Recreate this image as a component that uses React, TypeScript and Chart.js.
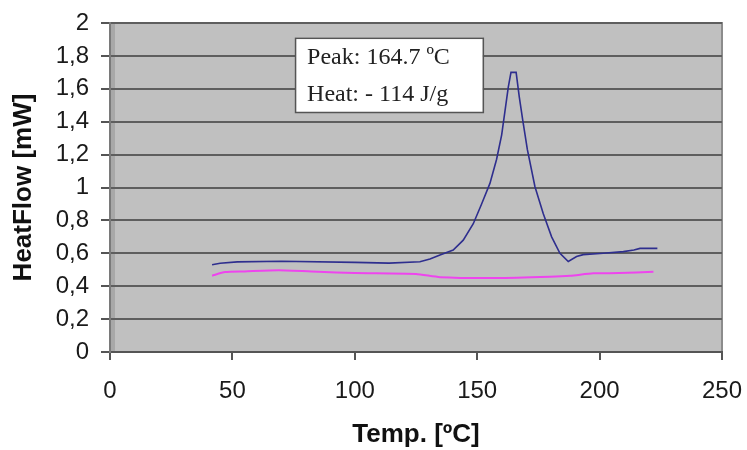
import React, { useEffect, useRef } from "react";
import { Chart, registerables } from "chart.js";

Chart.register(...registerables);

// Sample (upper, blue) curve: temperature [°C] and heat flow [mW]
const sampleTemp = [41.7, 45, 52, 70, 100, 114, 126.6, 130.7, 134.8, 140.2, 144.3, 148.4, 151.8, 155.2, 157.9, 160.0, 161.4, 162.7, 163.8, 165.9, 167.2, 168.6, 170.5, 173.6, 177.0, 180.4, 183.8, 187.2, 190.6, 193.3, 201.5, 209.7, 214, 216.5, 223.6];
const sampleFlow = [0.53, 0.54, 0.548, 0.552, 0.545, 0.54, 0.549, 0.565, 0.59, 0.62, 0.68, 0.78, 0.90, 1.025, 1.17, 1.32, 1.47, 1.61, 1.70, 1.70, 1.55, 1.41, 1.23, 1.005, 0.84, 0.70, 0.60, 0.55, 0.58, 0.592, 0.60, 0.61, 0.62, 0.63, 0.63];

// Baseline (lower, magenta) curve
const baseTemp = [41.7, 47, 55, 69, 85, 100, 125, 134.8, 158, 179.7, 188, 197.4, 208, 222];
const baseFlow = [0.464, 0.486, 0.49, 0.497, 0.488, 0.48, 0.474, 0.455, 0.45, 0.458, 0.464, 0.478, 0.48, 0.488];

const xTicksMin = 0;
const xTicksMax = 250;
const xStep = 50;
const yMin = 0;
const yMax = 2;
const yStep = 0.2;

const annotationLines = ["Peak: 164.7 ºC", "Heat: - 114 J/g"];
// annotation box anchored in data units: [left T, top value, right T, bottom value]
const annotationBox = [75.6, 1.91, 152.3, 1.459];

const xTitle = "Temp. [ºC]";
const yTitle = "HeatFlow [mW]";

const plotBgPlugin = {
  id: "plotBg",
  beforeDraw(chart: any) {
    const { ctx, chartArea } = chart;
    ctx.save();
    ctx.fillStyle = "#c0c0c0";
    ctx.fillRect(chartArea.left, chartArea.top, chartArea.right - chartArea.left, chartArea.bottom - chartArea.top);
    ctx.strokeStyle = "#8c8c8c";
    ctx.lineWidth = 2;
    ctx.strokeRect(chartArea.left + 1, chartArea.top, chartArea.right - chartArea.left - 1, chartArea.bottom - chartArea.top);
    ctx.fillStyle = "#a8a8a8";
    ctx.fillRect(chartArea.left, chartArea.top, 5, chartArea.bottom - chartArea.top);
    ctx.restore();
  },
};

const annotationPlugin = {
  id: "annot",
  afterDatasetsDraw(chart: any) {
    const { ctx, scales } = chart;
    const x0 = scales.x.getPixelForValue(annotationBox[0]);
    const y0 = scales.y.getPixelForValue(annotationBox[1]);
    const x1 = scales.x.getPixelForValue(annotationBox[2]);
    const y1 = scales.y.getPixelForValue(annotationBox[3]);
    ctx.save();
    ctx.fillStyle = "#ffffff";
    ctx.fillRect(x0, y0, x1 - x0, y1 - y0);
    ctx.strokeStyle = "#555555";
    ctx.lineWidth = 1.5;
    ctx.strokeRect(x0 + 0.5, y0 + 0.5, x1 - x0, y1 - y0);
    ctx.fillStyle = "#222222";
    ctx.font = '24px "Liberation Serif", "DejaVu Serif", serif';
    ctx.textBaseline = "middle";
    ctx.textAlign = "left";
    const h = y1 - y0;
    annotationLines.forEach((t, i) => {
      ctx.fillText(t, x0 + 12, y0 + h * (0.27 + 0.5 * i));
    });
    ctx.restore();
  },
};

export default function App() {
  const ref = useRef<HTMLCanvasElement | null>(null);
  useEffect(() => {
    document.body.style.margin = "0";
    const canvas = ref.current!;
    const chart = new Chart(canvas, {
      type: "line",
      data: {
        datasets: [
          {
            label: "Sample",
            data: sampleTemp.map((t, i) => ({ x: t, y: sampleFlow[i] })),
            borderColor: "#2e2e8e",
            borderWidth: 1.6,
            pointRadius: 0,
            tension: 0,
            fill: false,
          },
          {
            label: "Baseline",
            data: baseTemp.map((t, i) => ({ x: t, y: baseFlow[i] })),
            borderColor: "#ee44ee",
            borderWidth: 2,
            pointRadius: 0,
            tension: 0.2,
            fill: false,
          },
        ],
      },
      options: {
        animation: false,
        responsive: false,
        devicePixelRatio: 1,
        layout: { padding: { left: 0, top: 23, right: 25, bottom: 0 } },
        plugins: { legend: { display: false }, tooltip: { enabled: false } },
        scales: {
          x: {
            type: "linear",
            min: xTicksMin,
            max: xTicksMax,
            ticks: {
              stepSize: xStep,
              padding: 17,
              color: "#1a1a1a",
              font: { family: '"Liberation Sans", Arial, sans-serif', size: 24 },
              maxRotation: 0,
            },
            grid: { drawOnChartArea: false, drawTicks: true, tickLength: 8, tickColor: "#555555", lineWidth: 2 },
            border: { display: true, color: "#555555", width: 2 },
            title: {
              display: true,
              text: xTitle,
              color: "#111111",
              font: { family: '"Liberation Sans", Arial, sans-serif', size: 26, weight: "bold" },
              padding: { top: 4, bottom: 0 },
            },
            afterFit(scale: any) {
              scale.height = 98;
              scale.paddingLeft = 0;
              scale.paddingRight = 0;
            },
          },
          y: {
            type: "linear",
            min: yMin,
            max: yMax,
            ticks: {
              stepSize: yStep,
              padding: 12,
              color: "#1a1a1a",
              font: { family: '"Liberation Sans", Arial, sans-serif', size: 24 },
              callback: (v: any) => {
                const n = Math.round(Number(v) * 10) / 10;
                return String(n).replace(".", ",");
              },
            },
            grid: { color: "#5e5e5e", lineWidth: 2, drawTicks: true, tickLength: 9, tickColor: "#555555" },
            border: { display: true, color: "#7a7a7a", width: 2 },
            title: {
              display: true,
              text: yTitle,
              color: "#111111",
              font: { family: '"Liberation Sans", Arial, sans-serif', size: 26, weight: "bold" },
              padding: { top: 8, bottom: 0 },
            },
            afterFit(scale: any) {
              scale.width = 110;
              scale.paddingTop = 0;
              scale.paddingBottom = 0;
            },
          },
        },
      },
      plugins: [plotBgPlugin, annotationPlugin],
    });
    return () => chart.destroy();
  }, []);
  return (
    <div style={{ width: 747, height: 450, background: "#ffffff" }}>
      <canvas ref={ref} width={747} height={450} style={{ display: "block" }} />
    </div>
  );
}
